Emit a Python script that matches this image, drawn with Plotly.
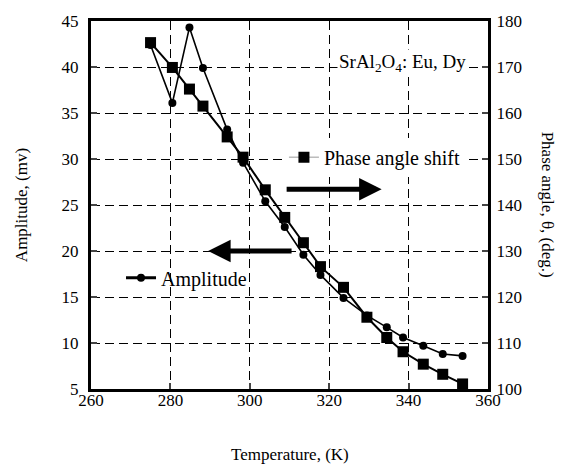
import plotly.graph_objects as go

temperature = [275, 280.5, 284.8, 288.2, 294.3, 298.3, 303.9, 308.8, 313.5, 317.8,
               323.6, 329.5, 334.5, 338.6, 343.7, 348.6, 353.6]
amplitude = [42.4, 36.1, 44.3, 39.9, 33.2, 29.6, 25.4, 22.6, 19.6, 17.4,
             14.9, 13.0, 11.7, 10.6, 9.7, 8.8, 8.6]
phase = [175.3, 169.9, 165.2, 161.5, 154.8, 150.4, 143.3, 137.3, 131.8, 126.6,
         122.1, 115.6, 111.2, 108.1, 105.4, 103.2, 101.1]

x_ticks = [260, 280, 300, 320, 340, 360]
left_ticks = [5, 10, 15, 20, 25, 30, 35, 40, 45]
right_ticks = [100, 110, 120, 130, 140, 150, 160, 170, 180]

FONT = "Liberation Serif"

fig = go.Figure()

fig.add_trace(go.Scatter(x=temperature, y=amplitude, mode="lines+markers",
                         line=dict(color="black", width=1.6),
                         marker=dict(symbol="circle", size=8, color="black"),
                         showlegend=False, yaxis="y"))
fig.add_trace(go.Scatter(x=temperature, y=phase, mode="lines+markers",
                         line=dict(color="black", width=2),
                         marker=dict(symbol="square", size=11, color="black"),
                         showlegend=False, yaxis="y2"))

# legend-only entries
fig.add_trace(go.Scatter(x=[None], y=[None], mode="lines+markers", name="Phase angle shift",
                         line=dict(color="#999999", width=1),
                         marker=dict(symbol="square", size=11, color="black"),
                         legend="legend"))
fig.add_trace(go.Scatter(x=[None], y=[None], mode="lines+markers", name="Amplitude",
                         line=dict(color="black", width=3),
                         marker=dict(symbol="circle", size=8, color="black"),
                         legend="legend2"))

grid = dict(showgrid=True, gridcolor="black", gridwidth=1.3, griddash="9px,5px")

fig.update_layout(
    width=566, height=470,
    margin=dict(l=83, r=86, t=13, b=89, autoexpand=False),
    paper_bgcolor="white", plot_bgcolor="white",
    font=dict(family=FONT, size=17, color="black"),
    xaxis=dict(range=[260, 360], tickvals=x_ticks, ticks="inside", ticklen=6, tickwidth=2,
               showline=True, linewidth=3, linecolor="black", mirror=True,
               zeroline=False, ticklabelstandoff=-6, automargin=False, **grid),
    yaxis=dict(range=[5, 45], tickvals=left_ticks, ticks="inside", ticklen=6, tickwidth=2,
               showline=True, linewidth=3, linecolor="black", zeroline=False,
               ticklabelstandoff=6, automargin=False, **grid),
    yaxis2=dict(range=[100, 180], tickvals=right_ticks, ticks="inside", ticklen=6, tickwidth=2,
                overlaying="y", side="right", showline=True, linewidth=3, linecolor="black",
                showgrid=False, zeroline=False, ticklabelstandoff=2, automargin=False),
    legend=dict(x=0.486, y=0.63, xanchor="left", yanchor="middle", bgcolor="white",
                borderwidth=0, font=dict(size=20, family=FONT)),
    legend2=dict(x=0.0756, y=0.302, xanchor="left", yanchor="middle", bgcolor="rgba(0,0,0,0)",
                 borderwidth=0, font=dict(size=20, family=FONT)),
    annotations=[
        dict(x=333.2, y=26.7, ax=308.9, ay=26.7, xref="x", yref="y", axref="x", ayref="y",
             showarrow=True, arrowhead=2, arrowsize=0.9, arrowwidth=5, arrowcolor="black", text=""),
        dict(x=289.5, y=20.0, ax=310.9, ay=20.0, xref="x", yref="y", axref="x", ayref="y",
             showarrow=True, arrowhead=2, arrowsize=0.9, arrowwidth=5, arrowcolor="black", text=""),
        dict(x=322.0, y=40.4, xref="x", yref="y", showarrow=False, xanchor="left",
             text="SrAl<sub>2</sub>O<sub>4</sub>: Eu, Dy", bgcolor="white",
             font=dict(size=19, family=FONT)),
        dict(x=0.5, y=-0.179, xref="paper", yref="paper", showarrow=False,
             xanchor="center", yanchor="middle",
             text="Temperature, (K)", font=dict(size=17, family=FONT)),
        dict(x=-0.176, y=0.5, xref="paper", yref="paper", showarrow=False, textangle=-90,
             xanchor="center", yanchor="middle",
             text="Amplitude, (mv)", font=dict(size=17, family=FONT)),
        dict(x=1.152, y=0.5, xref="paper", yref="paper", showarrow=False, textangle=90,
             xanchor="center", yanchor="middle",
             text="Phase angle, θ, (deg.)", font=dict(size=17, family=FONT)),
    ],
)

fig.write_html("out.html")
